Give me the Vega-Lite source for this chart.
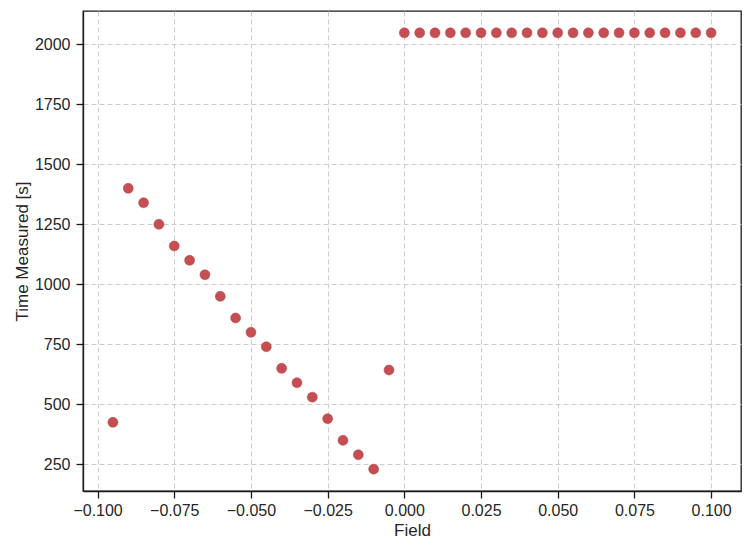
{
  "$schema": "https://vega.github.io/schema/vega-lite/v6.json",
  "width": 658,
  "height": 480,
  "autosize": {"type": "none"},
  "padding": {"left": 83, "top": 11, "right": 10, "bottom": 61},
  "background": "white",
  "config": {
    "view": {"stroke": "#1a1a1a", "strokeWidth": 1.3},
    "axis": {
      "labelFont": "Liberation Sans",
      "titleFont": "Liberation Sans",
      "labelFontSize": 16,
      "titleFontSize": 17,
      "titleFontWeight": "normal",
      "labelColor": "#262626",
      "titleColor": "#262626",
      "domainColor": "#1a1a1a",
      "domainWidth": 1.3,
      "tickColor": "#1a1a1a",
      "tickWidth": 1.3,
      "tickSize": 7,
      "grid": true,
      "gridColor": "#cccccc",
      "gridDash": [5, 3],
      "gridWidth": 1
    }
  },
  "data": {
    "values": [
      {"field": -0.095, "time": 425},
      {"field": -0.090, "time": 1400},
      {"field": -0.085, "time": 1340},
      {"field": -0.080, "time": 1250},
      {"field": -0.075, "time": 1160},
      {"field": -0.070, "time": 1100},
      {"field": -0.065, "time": 1040},
      {"field": -0.060, "time": 950},
      {"field": -0.055, "time": 860},
      {"field": -0.050, "time": 800},
      {"field": -0.045, "time": 740},
      {"field": -0.040, "time": 650},
      {"field": -0.035, "time": 590},
      {"field": -0.030, "time": 530},
      {"field": -0.025, "time": 440},
      {"field": -0.020, "time": 350},
      {"field": -0.015, "time": 290},
      {"field": -0.010, "time": 230},
      {"field": -0.005, "time": 643},
      {"field": 0.000, "time": 2048},
      {"field": 0.005, "time": 2048},
      {"field": 0.010, "time": 2048},
      {"field": 0.015, "time": 2048},
      {"field": 0.020, "time": 2048},
      {"field": 0.025, "time": 2048},
      {"field": 0.030, "time": 2048},
      {"field": 0.035, "time": 2048},
      {"field": 0.040, "time": 2048},
      {"field": 0.045, "time": 2048},
      {"field": 0.050, "time": 2048},
      {"field": 0.055, "time": 2048},
      {"field": 0.060, "time": 2048},
      {"field": 0.065, "time": 2048},
      {"field": 0.070, "time": 2048},
      {"field": 0.075, "time": 2048},
      {"field": 0.080, "time": 2048},
      {"field": 0.085, "time": 2048},
      {"field": 0.090, "time": 2048},
      {"field": 0.095, "time": 2048},
      {"field": 0.100, "time": 2048}
    ]
  },
  "mark": {"type": "circle", "size": 100, "color": "#c44e52", "opacity": 1, "stroke": "#b84548", "strokeWidth": 0.5},
  "encoding": {
    "x": {
      "field": "field",
      "type": "quantitative",
      "title": "Field",
      "scale": {"domain": [-0.10475, 0.10975], "nice": false, "zero": false},
      "axis": {"values": [-0.1, -0.075, -0.05, -0.025, 0, 0.025, 0.05, 0.075, 0.1], "format": ".3f", "labelPadding": 4, "titlePadding": 4}
    },
    "y": {
      "field": "time",
      "type": "quantitative",
      "title": "Time Measured [s]",
      "scale": {"domain": [139, 2139], "nice": false, "zero": false},
      "axis": {"values": [250, 500, 750, 1000, 1250, 1500, 1750, 2000], "format": "d", "labelPadding": 6, "titlePadding": 3}
    }
  }
}
